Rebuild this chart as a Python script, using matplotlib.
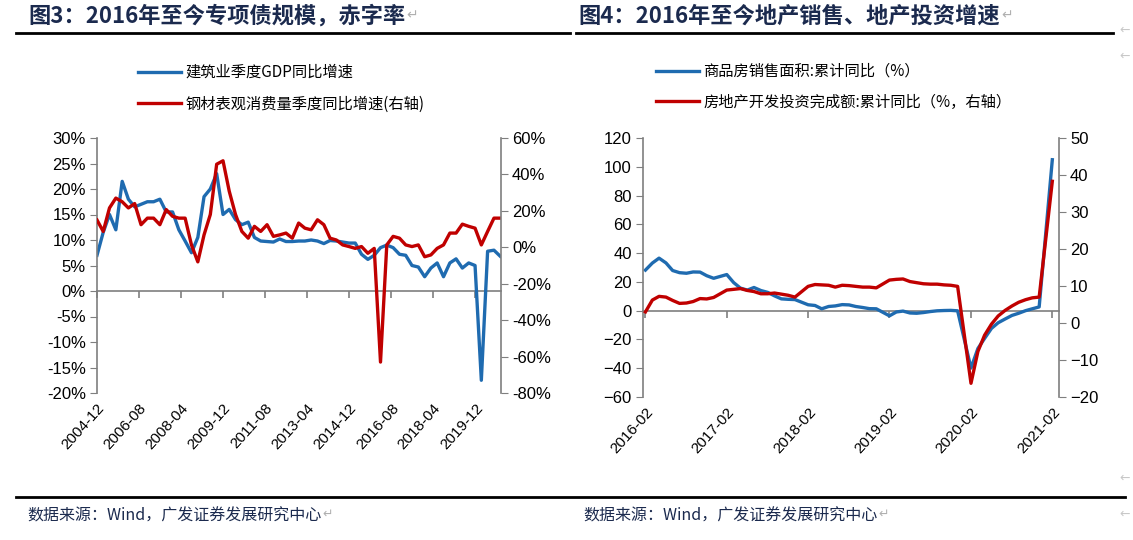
import numpy as np
import pandas as pd
import matplotlib
matplotlib.use("Agg")
import matplotlib.pyplot as plt
import matplotlib.dates as mdates
from matplotlib.ticker import FuncFormatter

plt.rcParams['font.family'] = ['Liberation Sans', 'Noto Sans CJK SC', 'DejaVu Sans']
CJK = ['Noto Sans CJK SC', 'DejaVu Sans']

# ---- 图3 data (quarterly) ----
q_dates = pd.date_range('2004-12-31', periods=65, freq='QE')
gdp_build = [7, 11.5, 15, 12, 21.5, 18, 16.5, 17, 17.5, 17.5,
             18, 15.5, 15.5, 12, 9.8, 7.5, 10.5, 18.5, 20, 23,
             15, 16, 14, 13, 13.5, 10.5, 9.8, 9.7, 9.6, 10.2,
             9.7, 9.7, 9.8, 9.8, 10, 9.8, 9.3, 9.9, 9.8, 9.6,
             9.4, 9.4, 7.2, 6.2, 7, 8.5, 9, 8.5, 7.2, 7,
             5, 4.7, 2.8, 4.5, 5.5, 2.8, 5.5, 6.3, 4.5, 5.5,
             5, -17.5, 7.8, 8, 6.8]
steel = [15, 8.7, 21.6, 27, 25, 21.6, 24, 12.4, 16, 16,
         12.4, 20.7, 17, 16, 16, 1.3, -8, 6.8, 18, 45.6,
         47.5, 30.8, 18, 8.7, 5, 11.5, 8.7, 12.4, 6, 6.8,
         7.8, 5, 13.3, 10.5, 9.6, 15.1, 12.4, 5, 4, 1.3,
         0.4, -0.6, 0.4, -3.3, -0.6, -63, 1.3, 6, 5, 1.3,
         0.4, 1.3, -5.2, -4.2, -0.6, 1.3, 7.8, 7.8, 12.7, 11.5,
         10.5, 1.3, 8.7, 16, 16]
left_ticks = pd.date_range('2004-12-31', '2020-12-31', freq='20ME')

# ---- 图4 data (monthly cumulative, no January) ----
m_dates = [pd.Timestamp(y, m, 1) + pd.offsets.MonthEnd(0)
           for y in range(2016, 2021) for m in range(2, 13)]
m_dates.append(pd.Timestamp('2021-02-28'))
sales_area = [28.2, 33.1, 36.5, 33.2, 27.9, 26.4, 26.0, 26.9, 26.8, 24.3, 22.5,
              25.1, 19.5, 15.7, 14.3, 16.1, 14.0, 12.7, 10.3, 8.2, 7.9, 7.7,
              4.1, 3.6, 1.3, 2.9, 3.3, 4.2, 4.0, 2.9, 2.2, 1.4, 1.3,
              -3.6, -0.9, -0.3, -1.6, -1.8, -1.3, -0.6, -0.1, 0.1, 0.2, -0.1,
              -39.9, -26.3, -19.3, -12.3, -8.4, -5.8, -3.3, -1.8, 0.0, 1.3, 2.6,
              104.9]
invest = [3.0, 6.2, 7.2, 7.0, 6.1, 5.3, 5.4, 5.8, 6.6, 6.5, 6.9,
          8.9, 9.1, 9.3, 8.8, 8.5, 7.9, 7.9, 8.1, 7.8, 7.5, 7.0,
          9.9, 10.4, 10.3, 10.2, 9.7, 10.2, 10.1, 9.9, 9.7, 9.7, 9.5,
          11.6, 11.8, 11.9, 11.2, 10.9, 10.6, 10.5, 10.5, 10.3, 10.2, 9.9,
          -16.3, -7.7, -3.3, -0.3, 1.9, 3.4, 4.6, 5.6, 6.3, 6.8, 7.0,
          38.3]
right_ticks = pd.date_range('2016-02-29', '2021-02-28', freq='12ME')

BLUE = '#1f6bb0'
RED = '#c00000'
NAVY = '#1b2a4e'
GRAY = '#7f7f7f'
W, H = 1133, 540

fig = plt.figure(figsize=(W / 100, H / 100), dpi=100)


def style_axes(ax, ax2, xmin, xmax, ticks, ylim, zero_frac):
    for a in (ax, ax2):
        a.spines['top'].set_visible(False)
        a.spines['bottom'].set_visible(False)
        a.spines['left'].set_color(GRAY)
        a.spines['right'].set_color(GRAY)
        a.spines['left'].set_linewidth(1.2)
        a.spines['right'].set_linewidth(1.2)
    ax2.spines['left'].set_visible(False)
    ax.spines['right'].set_visible(False)
    ax.set_xlim(xmin, xmax)
    ax.set_ylim(*ylim)
    ax.set_xticks(ticks)
    ax.xaxis.set_major_formatter(mdates.DateFormatter('%Y-%m'))
    ax.tick_params(axis='x', length=0, pad=6, labelsize=11)
    for lab in ax.get_xticklabels():
        lab.set_rotation(48)
        lab.set_ha('right')
        lab.set_va('top')
        lab.set_rotation_mode('anchor')
    ax.tick_params(axis='y', direction='out', length=5, color=GRAY, labelsize=12, pad=3)
    ax2.tick_params(axis='y', direction='out', length=5, color=GRAY, labelsize=12, pad=3)
    # zero line with tick marks
    sec = ax.secondary_xaxis(zero_frac)
    sec.set_xticks(mdates.date2num(ticks))
    sec.set_xticklabels([])
    sec.tick_params(axis='x', direction='out', length=5, color=GRAY, width=1.2)
    sec.spines['bottom'].set_color(GRAY)
    sec.spines['bottom'].set_linewidth(1.2)


# ---- left chart ----
axL = fig.add_axes([97 / W, 1 - 393 / H, 404 / W, 255 / H])
axL2 = axL.twinx()
l1, = axL.plot(q_dates, gdp_build, color=BLUE, lw=2.4)
l2, = axL2.plot(q_dates, steel, color=RED, lw=2.4)
style_axes(axL, axL2, pd.Timestamp('2004-12-31'), pd.Timestamp('2021-01-10'),
           left_ticks, (-20, 30), 0.4)
axL.set_yticks(np.arange(-20, 31, 5))
axL.yaxis.set_major_formatter(FuncFormatter(lambda v, p: f'{v:.0f}%'))
axL2.set_ylim(-80, 60)
axL2.set_yticks(np.arange(-80, 61, 20))
axL2.yaxis.set_major_formatter(FuncFormatter(lambda v, p: f'{v:.0f}%'))
fig.legend([l1, l2], ['建筑业季度GDP同比增速', '钢材表观消费量季度同比增速(右轴)'],
           loc='upper left', bbox_to_anchor=(138 / W, 1 - 64 / H), frameon=False,
           prop={'family': CJK, 'size': 11}, handlelength=2.8, handletextpad=0.3,
           labelspacing=0.95, borderaxespad=0, borderpad=0)

# ---- right chart ----
axR = fig.add_axes([643 / W, 1 - 397 / H, 416 / W, 259 / H])
axR2 = axR.twinx()
r1, = axR.plot(m_dates, sales_area, color=BLUE, lw=2.4)
r2, = axR2.plot(m_dates, invest, color=RED, lw=2.4)
style_axes(axR, axR2, pd.Timestamp('2016-02-18'), pd.Timestamp('2021-03-30'),
           right_ticks, (-60, 120), 60 / 180)
axR.set_yticks(np.arange(-60, 121, 20))
axR2.set_ylim(-20, 50)
axR2.set_yticks(np.arange(-20, 51, 10))
fig.legend([r1, r2], ['商品房销售面积:累计同比（%）', '房地产开发投资完成额:累计同比（%，右轴）'],
           loc='upper left', bbox_to_anchor=(656 / W, 1 - 63 / H), frameon=False,
           prop={'family': CJK, 'size': 11}, handlelength=2.8, handletextpad=0.3,
           labelspacing=0.9, borderaxespad=0, borderpad=0)

# ---- titles, rules, footers ----
for x0, title in [(28, '图3：2016年至今专项债规模，赤字率'),
                  (578, '图4：2016年至今地产销售、地产投资增速')]:
    t = fig.text(x0 / W, 1 - 16 / H, title, family=CJK, weight='bold', size=16,
                 color=NAVY, va='center', ha='left')
    plt.annotate('↵', xy=(1, 0.2), xycoords=t, xytext=(1, 0), textcoords='offset points',
                 family=['DejaVu Sans'], size=10, color='#b0b0b0', va='bottom')

fig.add_artist(plt.Line2D([16 / W, 570 / W], [1 - 33 / H] * 2, color='black', lw=2))
fig.add_artist(plt.Line2D([576 / W, 1113 / W], [1 - 33 / H] * 2, color='black', lw=2))
fig.add_artist(plt.Line2D([16 / W, 1125 / W], [1 - 497 / H] * 2, color='black', lw=2))

for x0 in (27, 583):
    t = fig.text(x0 / W, 1 - 516 / H, '数据来源：Wind，广发证券发展研究中心', family=CJK,
                 size=11.5, color=NAVY, va='center', ha='left')
    plt.annotate('↵', xy=(1, 0.2), xycoords=t, xytext=(1, 0), textcoords='offset points',
                 family=['DejaVu Sans'], size=9, color='#b0b0b0', va='bottom')

for yy in (30, 56, 478, 514):
    fig.text(1125 / W, 1 - yy / H, '←', family=['DejaVu Sans'], size=9,
             color='#c8c8c8', va='center', ha='center')

fig.savefig('out.png', dpi=100)
